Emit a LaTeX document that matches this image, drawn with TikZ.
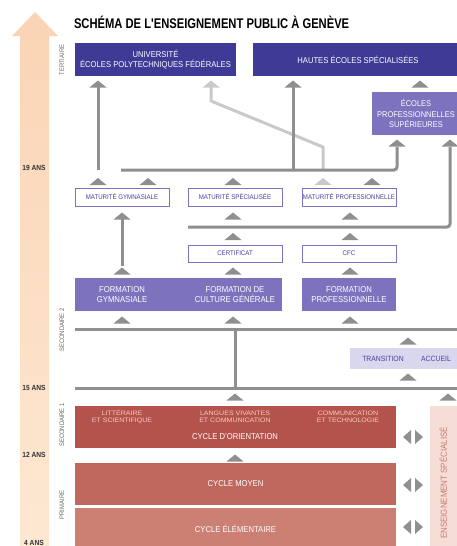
\documentclass[tikz,border=0pt]{standalone}
\usepackage{fontspec}
\setmainfont{Liberation Sans}[FakeStretch=0.9]
\newfontfamily\titlefont{Liberation Sans}[FakeStretch=0.8]
\newfontfamily\subfont{Liberation Sans}[FakeStretch=1.1]
\definecolor{dblue}{RGB}{62,58,150}
\definecolor{mpurple}{RGB}{124,114,190}
\definecolor{mtext}{RGB}{70,66,160}
\definecolor{lav}{RGB}{217,215,238}
\definecolor{corient}{RGB}{180,82,76}
\definecolor{cmoyen}{RGB}{193,104,94}
\definecolor{celem}{RGB}{204,128,116}
\definecolor{cspec}{RGB}{246,222,214}
\definecolor{cspectext}{RGB}{200,122,112}
\definecolor{subtext}{RGB}{246,205,196}
\definecolor{peachA}{RGB}{250,212,180}
\definecolor{peachB}{RGB}{253,232,210}
\definecolor{gline}{RGB}{143,143,143}
\definecolor{lline}{RGB}{201,201,201}
\newcommand\utri[3][gline]{\fill[#1] (#2-8.5,#3+3.5) -- (#2,#3-3.5) -- (#2+8.5,#3+3.5) -- cycle;}
\newcommand\lrtri[2]{\fill[gline] (#1-2,#2-7) -- (#1-10,#2) -- (#1-2,#2+7) -- cycle;
  \fill[gline] (#1+2,#2-7) -- (#1+10,#2) -- (#1+2,#2+7) -- cycle;}
\begin{document}
\begin{tikzpicture}[x=1pt,y=-1pt,
  blk/.style={inner sep=0pt,outer sep=0pt,draw=none,align=center},
  topbox/.style={blk,fill=dblue,text=white,font=\fontsize{8.5}{10.5}\selectfont},
  formbox/.style={blk,fill=mpurple,text=white,font=\fontsize{8.6}{10.5}\selectfont},
  matbox/.style={blk,fill=white,draw=mpurple,line width=0.9pt,text=mtext,font=\fontsize{6.8}{8}\selectfont,minimum width=94,minimum height=18},
  cyc/.style={blk,text=white,font=\fontsize{8.5}{10}\selectfont,minimum width=321,minimum height=42},
  sub/.style={blk,text=subtext,font=\subfont\fontsize{6.4}{7.4}\selectfont},
  side/.style={blk,rotate=90,text=black!60,font=\fontsize{6.5}{8}\selectfont},
  age/.style={blk,text=black!80,font=\bfseries\fontsize{7.4}{8}\selectfont},
  gl/.style={draw=gline,line width=3pt},
  ll/.style={draw=lline,line width=3pt,line join=round},
  ]
\path[use as bounding box] (0,0) rectangle (457,546);
% peach arrow
\shade[top color=peachA,bottom color=peachB] (20,36) -- (12,36) -- (35,12) -- (58,36) -- (49,36) -- (49,546) -- (20,546) -- cycle;
% ages
\node[age] (a19) at (34,168) {19 ANS};
\node[age] (a15) at (34,388) {15 ANS};
\node[age] (a12) at (34,455) {12 ANS};
\node[age] (a4) at (34,543) {4 ANS};
% side labels
\node[side] (tert) at (62,60) {TERTIAIRE};
\node[side] (sec2) at (62,330) {SECONDAIRE 2};
\node[side] (sec1) at (62,425) {SECONDAIRE 1};
\node[side] (prim) at (62,505) {PRIMAIRE};
% title
\node[blk,anchor=west,font=\titlefont\bfseries\fontsize{14}{16}\selectfont] (title) at (74,22) {SCHÉMA DE L'ENSEIGNEMENT PUBLIC À GENÈVE};
% top boxes
\node[topbox,minimum width=161,minimum height=33] (univ) at (155.5,59.5) {UNIVERSITÉ\\ÉCOLES POLYTECHNIQUES FÉDÉRALES};
\node[topbox,minimum width=210,minimum height=33] (hes) at (358,59.5) {HAUTES ÉCOLES SPÉCIALISÉES};
\node[formbox,minimum width=88,minimum height=43,font=\fontsize{8.3}{10.8}\selectfont] (eps) at (416,113.5) {ÉCOLES\\PROFESSIONNELLES\\SUPÉRIEURES};
% maturités
\node[matbox] (matg) at (122,197) {MATURITÉ GYMNASIALE};
\node[matbox] (mats) at (235,197) {MATURITÉ SPÉCIALISÉE};
\node[matbox] (matp) at (349,197) {MATURITÉ PROFESSIONNELLE};
\node[matbox,minimum height=17] (cert) at (235,253.5) {CERTIFICAT};
\node[matbox,minimum height=17] (cfc) at (349,253.5) {CFC};
% formations
\node[formbox,minimum width=207,minimum height=33] (forma) at (178.5,294.5) {};
\node[blk,text=white,font=\fontsize{8.6}{10.5}\selectfont] (fgym) at (122,294.5) {FORMATION\\GYMNASIALE};
\node[blk,text=white,font=\fontsize{8.6}{10.5}\selectfont] (fcg) at (235,294.5) {FORMATION DE\\CULTURE GÉNÉRALE};
\node[formbox,minimum width=94,minimum height=33] (fpro) at (349,294.5) {FORMATION\\PROFESSIONNELLE};
% transition
\node[blk,fill=lav,minimum width=112,minimum height=21] (trans) at (406,358.5) {};
\node[blk,text=mtext,font=\fontsize{7.6}{8}\selectfont] (ttr) at (383,358.5) {TRANSITION};
\node[blk,text=mtext,font=\fontsize{7.6}{8}\selectfont] (tac) at (436,358.5) {ACCUEIL};
% cycles
\node[cyc,fill=corient] (co) at (235.5,426.5) {};
\node[sub] (s1) at (122,417) {LITTÉRAIRE\\ET SCIENTIFIQUE};
\node[sub] (s2) at (235,417) {LANGUES VIVANTES\\ET COMMUNICATION};
\node[sub] (s3) at (348,417) {COMMUNICATION\\ET TECHNOLOGIE};
\node[blk,text=white,font=\fontsize{8.5}{10}\selectfont] (cot) at (235,437) {CYCLE D'ORIENTATION};
\node[cyc,fill=cmoyen] (cm) at (235.5,484) {CYCLE MOYEN};
\node[cyc,fill=celem] (ce) at (235.5,529) {CYCLE ÉLÉMENTAIRE};
\node[blk,fill=cspec,minimum width=32,minimum height=144] (es) at (446,478) {};
\node[blk,rotate=90,text=cspectext,font=\fontsize{8.8}{9}\selectfont] (est) at (443,483) {ENSEIGNEMENT SPÉCIALISÉ};
% lines
\coordinate (j1) at (293,170);
\draw[ll] (211,87) -- (211,101) -- (323,147) -- (323,170);
\draw[gl] (98,87) -- (98,170);
\draw[gl] (293,87) -- (j1);
\draw[gl,rounded corners=3pt] (121,170) -- (397,170) -- (397,147);
\draw[gl,rounded corners=3pt] (188,227) -- (450,227) -- (450,147);
\draw[gl] (122,219) -- (122,266);
\draw[gl] (75,329) -- (457,329);
\draw[gl] (235,329) -- (235,388);
\draw[gl] (75,388) -- (457,388);
% triangles
\utri[lline]{211}{84}
\utri{98}{84}
\utri{293}{84}
\utri{420}{84}
\utri{397}{143}
\utri{450}{143}
\utri{98}{181.5}
\utri{148}{181.5}
\utri{233}{181.5}
\utri[lline]{323}{181.5}
\utri{372}{181.5}
\utri{122}{216}
\utri{233}{216}
\utri{350}{216}
\utri{233}{236.5}
\utri{350}{236.5}
\utri{122}{271}
\utri{233}{271}
\utri{350}{271}
\utri{122}{320}
\utri{233}{320}
\utri{350}{320}
\utri{408}{341}
\utri{408}{377}
\utri{235}{397}
\utri{448}{397}
\utri{235}{458}
\lrtri{413}{437}
\lrtri{413}{485}
\lrtri{413}{527}
\end{tikzpicture}
\end{document}
